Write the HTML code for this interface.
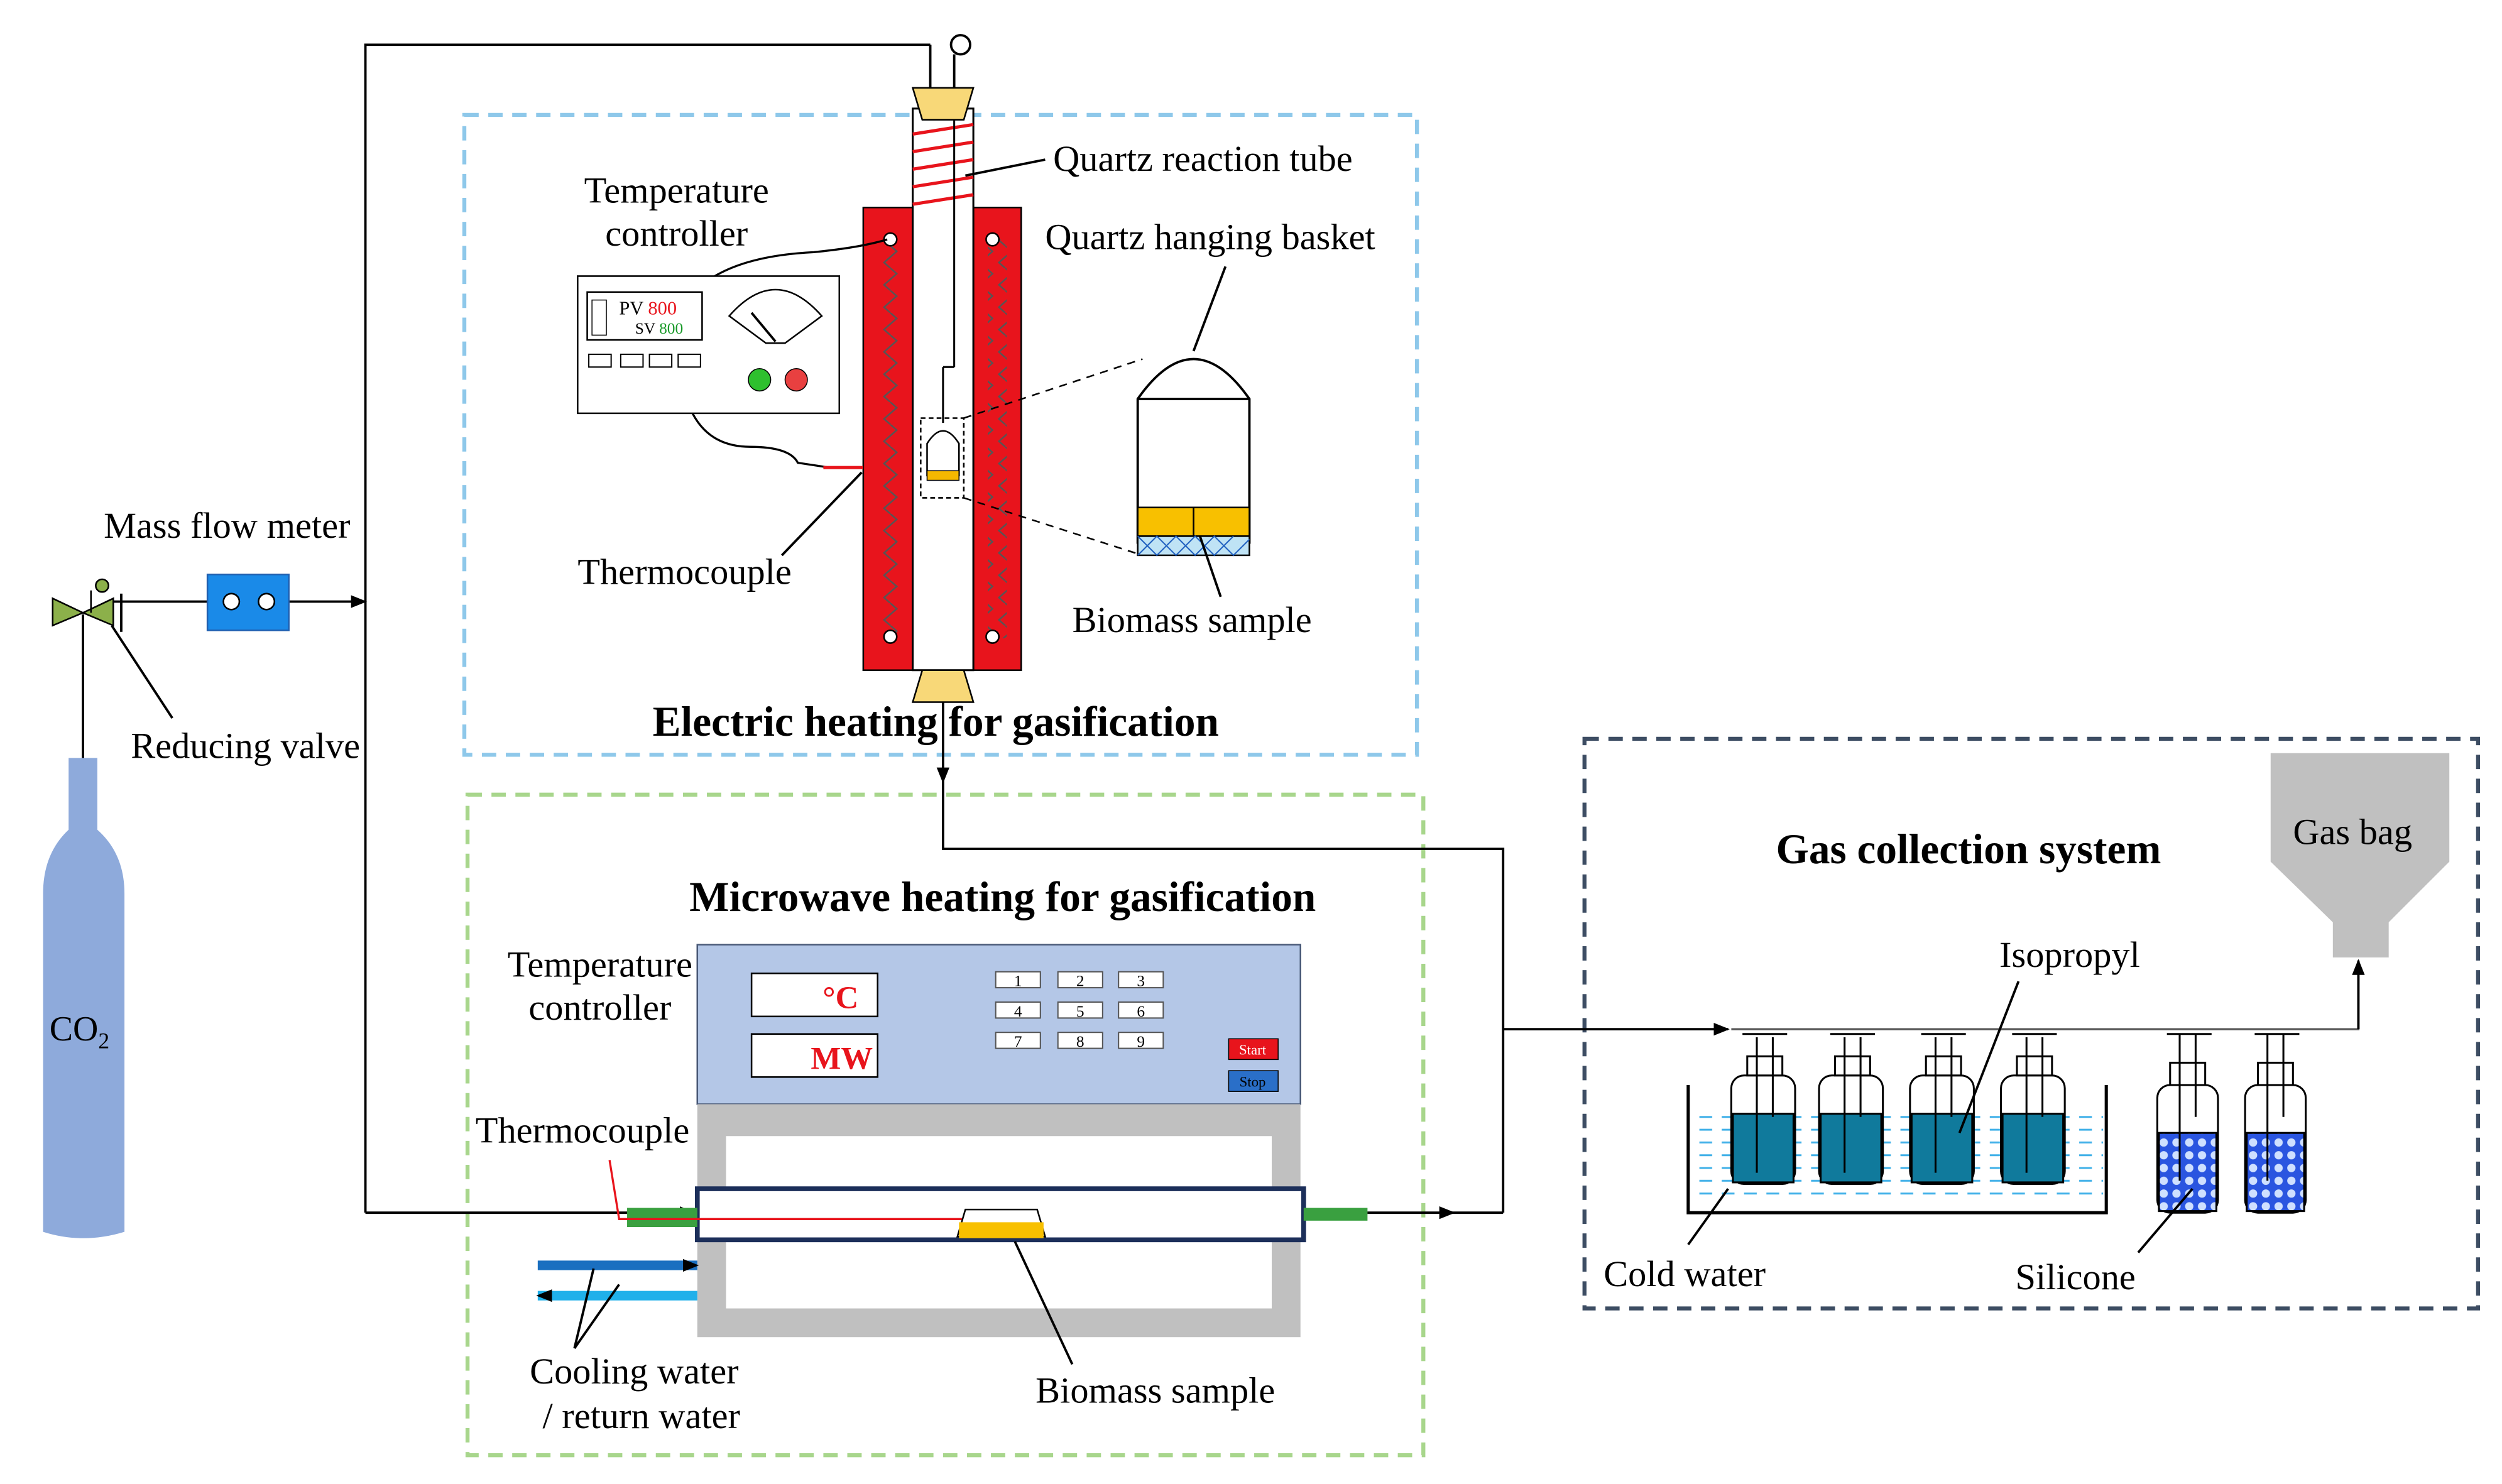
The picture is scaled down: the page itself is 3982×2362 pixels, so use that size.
<!DOCTYPE html>
<html><head><meta charset="utf-8"><style>
html,body{margin:0;padding:0;background:#fff;}
svg{display:block;}
text{font-family:"Liberation Serif",serif;fill:#000;}
</style></head><body>
<svg width="3982" height="2362" viewBox="0 0 1568 930" xmlns="http://www.w3.org/2000/svg">
<defs>
<marker id="ar" markerWidth="10" markerHeight="10" refX="9" refY="5" orient="auto" markerUnits="userSpaceOnUse"><path d="M0,1 L10,5 L0,9 Z" fill="#000"/></marker>
<pattern id="zz" width="12" height="14" patternUnits="userSpaceOnUse"><path d="M6,0 L10,3.5 L2,10.5 L6,14" stroke="#555" fill="none" stroke-width="1"/></pattern>
<pattern id="dots" width="8" height="8" patternUnits="userSpaceOnUse"><rect width="8" height="8" fill="#2a55e0"/><circle cx="4" cy="4" r="2.6" fill="#cfe0ff"/></pattern>
<pattern id="wat" width="14" height="8" patternUnits="userSpaceOnUse"><rect width="14" height="8" fill="#fff"/><line x1="1" y1="4" x2="9" y2="4" stroke="#3fb0e8" stroke-width="1.2"/></pattern>
</defs>
<rect width="1568" height="930" fill="#fff"/>

<rect x="291" y="72" width="597" height="401" fill="none" stroke="#8ec8ea" stroke-width="2.5" stroke-dasharray="9,6"/>
<rect x="293" y="498" width="599" height="414" fill="none" stroke="#a8d68c" stroke-width="2.5" stroke-dasharray="9,6"/>
<rect x="993" y="463" width="560" height="357" fill="none" stroke="#3d4d63" stroke-width="2.5" stroke-dasharray="9,6"/>

<path d="M43,475 L61,475 L61,520 Q78,535 78,560 L78,772 Q52,780 27,772 L27,560 Q27,535 43,520 Z" fill="#8eaadb"/>
<text x="31" y="652" font-size="22">CO<tspan font-size="14" dy="5">2</tspan></text>
<line x1="52" y1="475" x2="52" y2="385" stroke="#000" stroke-width="1.5"/>
<path d="M33,375 L52,384 L33,392 Z M71,375 L52,384 L71,392 Z" fill="#8cb04a" stroke="#000" stroke-width="1"/>
<circle cx="64" cy="367" r="4" fill="#8cb04a" stroke="#000"/>
<line x1="57" y1="370" x2="57" y2="384" stroke="#000"/>
<line x1="76" y1="372" x2="76" y2="396" stroke="#000" stroke-width="1.5"/>
<line x1="71" y1="377" x2="229" y2="377" stroke="#000" stroke-width="1.5" marker-end="url(#ar)"/>
<rect x="130" y="360" width="51" height="35" fill="#1a8ae8" stroke="#2060b0"/>
<circle cx="145" cy="377" r="5" fill="#fff" stroke="#000"/><circle cx="167" cy="377" r="5" fill="#fff" stroke="#000"/>
<text x="65" y="337" font-size="23">Mass flow meter</text>
<line x1="70" y1="392" x2="108" y2="450" stroke="#000" stroke-width="1.5"/>
<text x="82" y="475" font-size="23">Reducing valve</text>

<polyline points="229,760 229,28 583,28" fill="none" stroke="#000" stroke-width="1.5"/>
<line x1="583" y1="28" x2="583" y2="90" stroke="#000" stroke-width="1.5" marker-end="url(#ar)"/>
<line x1="229" y1="760" x2="435" y2="760" stroke="#000" stroke-width="1.5" marker-end="url(#ar)"/>
<circle cx="602" cy="28" r="6" fill="#fff" stroke="#000" stroke-width="1.5"/>
<line x1="598" y1="34" x2="598" y2="60" stroke="#000" stroke-width="1.5"/>

<rect x="541" y="130" width="31" height="290" fill="#e8141c" stroke="#000"/>
<rect x="610" y="130" width="30" height="290" fill="#e8141c" stroke="#000"/>
<rect x="551" y="150" width="12" height="250" fill="url(#zz)"/>
<rect x="619" y="150" width="12" height="250" fill="url(#zz)"/>
<circle cx="558" cy="150" r="4" fill="#fff" stroke="#000"/><circle cx="558" cy="399" r="4" fill="#fff" stroke="#000"/>
<circle cx="622" cy="150" r="4" fill="#fff" stroke="#000"/><circle cx="622" cy="399" r="4" fill="#fff" stroke="#000"/>
<rect x="572" y="68" width="38" height="352" fill="#fff" stroke="#000" stroke-width="1.2"/>
<g stroke="#e8141c" stroke-width="2"><line x1="572" y1="84" x2="610" y2="78"/><line x1="572" y1="95" x2="610" y2="89"/><line x1="572" y1="106" x2="610" y2="100"/><line x1="572" y1="117" x2="610" y2="111"/><line x1="572" y1="128" x2="610" y2="122"/></g>
<path d="M572,55 L610,55 L604,75 L578,75 Z" fill="#f8d878" stroke="#000"/>
<path d="M578,420 L604,420 L610,440 L572,440 Z" fill="#f8d878" stroke="#000"/>
<line x1="598" y1="75" x2="598" y2="230" stroke="#000" stroke-width="1.2"/>
<line x1="591" y1="230" x2="598" y2="230" stroke="#000" stroke-width="1.2"/>
<line x1="591" y1="230" x2="591" y2="265" stroke="#000" stroke-width="1.2"/>
<rect x="577" y="262" width="27" height="50" fill="none" stroke="#000" stroke-dasharray="3,2"/>
<path d="M581,298 L581,278 Q591,262 601,278 L601,298 Z" fill="#fff" stroke="#000"/>
<rect x="581" y="295" width="20" height="6" fill="#f5b800" stroke="#000" stroke-width="0.6"/>
<line x1="604" y1="262" x2="716" y2="225" stroke="#000" stroke-dasharray="5,4"/>
<line x1="604" y1="312" x2="716" y2="348" stroke="#000" stroke-dasharray="5,4"/>
<path d="M713,340 L713,250 Q748,200 783,250 L783,340 Z" fill="#fff" stroke="#000" stroke-width="1.5"/>
<line x1="713" y1="250" x2="783" y2="250" stroke="#000" stroke-width="1.5"/>
<rect x="713" y="318" width="70" height="18" fill="#f8c000" stroke="#000"/>
<line x1="748" y1="318" x2="748" y2="336" stroke="#000"/>
<rect x="713" y="336" width="70" height="12" fill="#bfe3f5" stroke="#000"/>
<path d="M713,336 L725,348 L737,336 L749,348 L761,336 L773,348 L783,338 M713,348 L725,336 L737,348 L749,336 L761,348 L773,336" stroke="#2060c0" fill="none" stroke-width="0.8"/>
<line x1="748" y1="220" x2="768" y2="167" stroke="#000" stroke-width="1.5"/>
<line x1="752" y1="336" x2="765" y2="374" stroke="#000" stroke-width="1.5"/>
<text x="655" y="156" font-size="23">Quartz hanging basket</text>
<text x="672" y="396" font-size="23">Biomass sample</text>
<line x1="605" y1="110" x2="655" y2="100" stroke="#000" stroke-width="1.5"/>
<text x="660" y="107" font-size="23">Quartz reaction tube</text>

<text x="424" y="127" font-size="23" text-anchor="middle">Temperature</text>
<text x="424" y="154" font-size="23" text-anchor="middle">controller</text>
<path d="M448,173 Q470,160 510,158 Q540,155 556,150" fill="none" stroke="#000" stroke-width="1.3"/>
<rect x="362" y="173" width="164" height="86" fill="#fff" stroke="#000"/>
<rect x="368" y="183" width="72" height="30" fill="#fff" stroke="#000"/>
<rect x="371" y="188" width="9" height="22" fill="none" stroke="#000" stroke-width="0.6"/>
<text x="388" y="197" font-size="12">PV <tspan style="fill:#e8141c">800</tspan></text>
<text x="398" y="209" font-size="10">SV <tspan style="fill:#1a9a2a">800</tspan></text>
<g fill="#fff" stroke="#000" stroke-width="0.8"><rect x="369" y="222" width="14" height="8"/><rect x="389" y="222" width="14" height="8"/><rect x="407" y="222" width="14" height="8"/><rect x="425" y="222" width="14" height="8"/></g>
<path d="M457,198 Q486,165 515,198 L492,215 L480,215 Z" fill="#fff" stroke="#000"/>
<line x1="486" y1="214" x2="471" y2="196" stroke="#000" stroke-width="1.5"/>
<circle cx="476" cy="238" r="7" fill="#2ec02e" stroke="#000" stroke-width="0.6"/>
<circle cx="499" cy="238" r="7" fill="#e84040" stroke="#000" stroke-width="0.6"/>
<path d="M434,259 Q445,280 470,280 Q495,280 500,290 L520,293" fill="none" stroke="#000" stroke-width="1.3"/>
<line x1="516" y1="293" x2="541" y2="293" stroke="#e8141c" stroke-width="2"/>
<line x1="540" y1="296" x2="490" y2="348" stroke="#000" stroke-width="1.5"/>
<text x="362" y="366" font-size="23">Thermocouple</text>
<text x="409" y="461" font-size="26.5" font-weight="bold">Electric heating for gasification</text>

<line x1="591" y1="440" x2="591" y2="490" stroke="#000" stroke-width="1.5" marker-end="url(#ar)"/>
<polyline points="591,490 591,532 942,532 942,760" fill="none" stroke="#000" stroke-width="1.5"/>
<line x1="942" y1="645" x2="1083" y2="645" stroke="#000" stroke-width="1.5" marker-end="url(#ar)"/>

<text x="432" y="571" font-size="26.5" font-weight="bold">Microwave heating for gasification</text>
<text x="376" y="612" font-size="23" text-anchor="middle">Temperature</text>
<text x="376" y="639" font-size="23" text-anchor="middle">controller</text>
<rect x="437" y="592" width="378" height="100" fill="#b4c7e7" stroke="#4a5a78"/>
<rect x="471" y="610" width="79" height="27" fill="#fff" stroke="#000"/>
<text x="538" y="632" font-size="20" font-weight="bold" text-anchor="end" style="fill:#e8141c">°C</text>
<rect x="471" y="648" width="79" height="27" fill="#fff" stroke="#000"/>
<text x="547" y="670" font-size="20" font-weight="bold" text-anchor="end" style="fill:#e8141c">MW</text>
<g font-size="10" text-anchor="middle">
<g fill="#fff" stroke="#555" stroke-width="0.8">
<rect x="624" y="609" width="28" height="10"/><rect x="663" y="609" width="28" height="10"/><rect x="701" y="609" width="28" height="10"/>
<rect x="624" y="628" width="28" height="10"/><rect x="663" y="628" width="28" height="10"/><rect x="701" y="628" width="28" height="10"/>
<rect x="624" y="647" width="28" height="10"/><rect x="663" y="647" width="28" height="10"/><rect x="701" y="647" width="28" height="10"/></g>
<text x="638" y="618">1</text><text x="677" y="618">2</text><text x="715" y="618">3</text>
<text x="638" y="637">4</text><text x="677" y="637">5</text><text x="715" y="637">6</text>
<text x="638" y="656">7</text><text x="677" y="656">8</text><text x="715" y="656">9</text>
</g>
<rect x="770" y="651" width="31" height="13" fill="#e8141c" stroke="#000" stroke-width="0.6"/>
<text x="785" y="661" font-size="9" text-anchor="middle" style="fill:#fff">Start</text>
<rect x="770" y="671" width="31" height="13" fill="#2a6fc8" stroke="#000" stroke-width="0.6"/>
<text x="785" y="681" font-size="9" text-anchor="middle">Stop</text>
<rect x="437" y="692" width="378" height="146" fill="#c0c0c0"/>
<rect x="455" y="712" width="342" height="108" fill="#fff"/>
<rect x="437" y="745" width="380" height="32" fill="#fff" stroke="#1c2f5a" stroke-width="3"/>
<rect x="393" y="757" width="44" height="12" fill="#3aa040"/>
<rect x="817" y="757" width="40" height="8" fill="#3aa040"/>
<line x1="857" y1="760" x2="911" y2="760" stroke="#000" stroke-width="1.5" marker-end="url(#ar)"/>
<line x1="911" y1="760" x2="942" y2="760" stroke="#000" stroke-width="1.5"/>
<path d="M382,727 L388,764 L640,764" fill="none" stroke="#e8141c" stroke-width="1.3"/>
<path d="M600,775 L605,758 L650,758 L655,775 Z" fill="#fff" stroke="#000"/>
<rect x="601" y="766" width="53" height="10" fill="#f8c000"/>
<text x="298" y="716" font-size="23">Thermocouple</text>
<line x1="337" y1="793" x2="437" y2="793" stroke="#1a6fc0" stroke-width="6" marker-end="url(#ar)"/>
<line x1="437" y1="812" x2="337" y2="812" stroke="#20b0ea" stroke-width="6" marker-end="url(#ar)"/>
<line x1="360" y1="845" x2="388" y2="805" stroke="#000" stroke-width="1.5"/>
<line x1="360" y1="845" x2="372" y2="795" stroke="#000" stroke-width="1.5"/>
<text x="332" y="867" font-size="23">Cooling water</text>
<text x="340" y="895" font-size="23">/ return water</text>
<line x1="636" y1="778" x2="672" y2="855" stroke="#000" stroke-width="1.5"/>
<text x="649" y="879" font-size="23">Biomass sample</text>

<text x="1113" y="541" font-size="26.5" font-weight="bold">Gas collection system</text>
<path d="M1423,472 L1535,472 L1535,540 L1497,578 L1497,600 L1462,600 L1462,578 L1423,540 Z" fill="#c0c0c0"/>
<text x="1437" y="529" font-size="23">Gas bag</text>
<polyline points="1085,645 1478,645 1478,602" fill="none" stroke="#555" stroke-width="1.3"/>
<line x1="1478" y1="645" x2="1478" y2="602" stroke="#000" stroke-width="1.5" marker-end="url(#ar)"/>
<rect x="1060" y="695" width="258" height="60" fill="url(#wat)"/>
<polyline points="1058,680 1058,760 1320,760 1320,680" fill="none" stroke="#000" stroke-width="2"/>
<g stroke="#000" stroke-width="1.2">
<rect x="1085" y="674" width="40" height="68" rx="8" fill="#fff"/><rect x="1086" y="698" width="38" height="43" fill="#107a9c"/><rect x="1095" y="662" width="22" height="12" fill="#fff"/><line x1="1101" y1="650" x2="1101" y2="735"/><line x1="1111" y1="650" x2="1111" y2="700"/>
<rect x="1140" y="674" width="40" height="68" rx="8" fill="#fff"/><rect x="1141" y="698" width="38" height="43" fill="#107a9c"/><rect x="1150" y="662" width="22" height="12" fill="#fff"/><line x1="1156" y1="650" x2="1156" y2="735"/><line x1="1166" y1="650" x2="1166" y2="700"/>
<rect x="1197" y="674" width="40" height="68" rx="8" fill="#fff"/><rect x="1198" y="698" width="38" height="43" fill="#107a9c"/><rect x="1207" y="662" width="22" height="12" fill="#fff"/><line x1="1213" y1="650" x2="1213" y2="735"/><line x1="1223" y1="650" x2="1223" y2="700"/>
<rect x="1254" y="674" width="40" height="68" rx="8" fill="#fff"/><rect x="1255" y="698" width="38" height="43" fill="#107a9c"/><rect x="1264" y="662" width="22" height="12" fill="#fff"/><line x1="1270" y1="650" x2="1270" y2="735"/><line x1="1280" y1="650" x2="1280" y2="700"/>
<rect x="1352" y="680" width="38" height="80" rx="8" fill="#fff"/><rect x="1353" y="710" width="36" height="49" fill="url(#dots)"/><rect x="1360" y="666" width="22" height="14" fill="#fff"/><line x1="1366" y1="648" x2="1366" y2="740"/><line x1="1376" y1="648" x2="1376" y2="700"/>
<rect x="1407" y="680" width="38" height="80" rx="8" fill="#fff"/><rect x="1408" y="710" width="36" height="49" fill="url(#dots)"/><rect x="1415" y="666" width="22" height="14" fill="#fff"/><line x1="1421" y1="648" x2="1421" y2="740"/><line x1="1431" y1="648" x2="1431" y2="700"/>
</g>
<g stroke="#000" stroke-width="1.2" fill="none">
<path d="M1092,648 L1120,648 M1147,648 L1175,648 M1204,648 L1232,648 M1261,648 L1289,648 M1358,648 L1386,648 M1413,648 L1441,648"/>
</g>
<line x1="1265" y1="615" x2="1228" y2="710" stroke="#000" stroke-width="1.5"/>
<text x="1253" y="606" font-size="23">Isopropyl</text>
<line x1="1083" y1="745" x2="1058" y2="780" stroke="#000" stroke-width="1.5"/>
<text x="1005" y="806" font-size="23">Cold water</text>
<line x1="1374" y1="745" x2="1340" y2="785" stroke="#000" stroke-width="1.5"/>
<text x="1263" y="808" font-size="23">Silicone</text>
</svg>
</body></html>
